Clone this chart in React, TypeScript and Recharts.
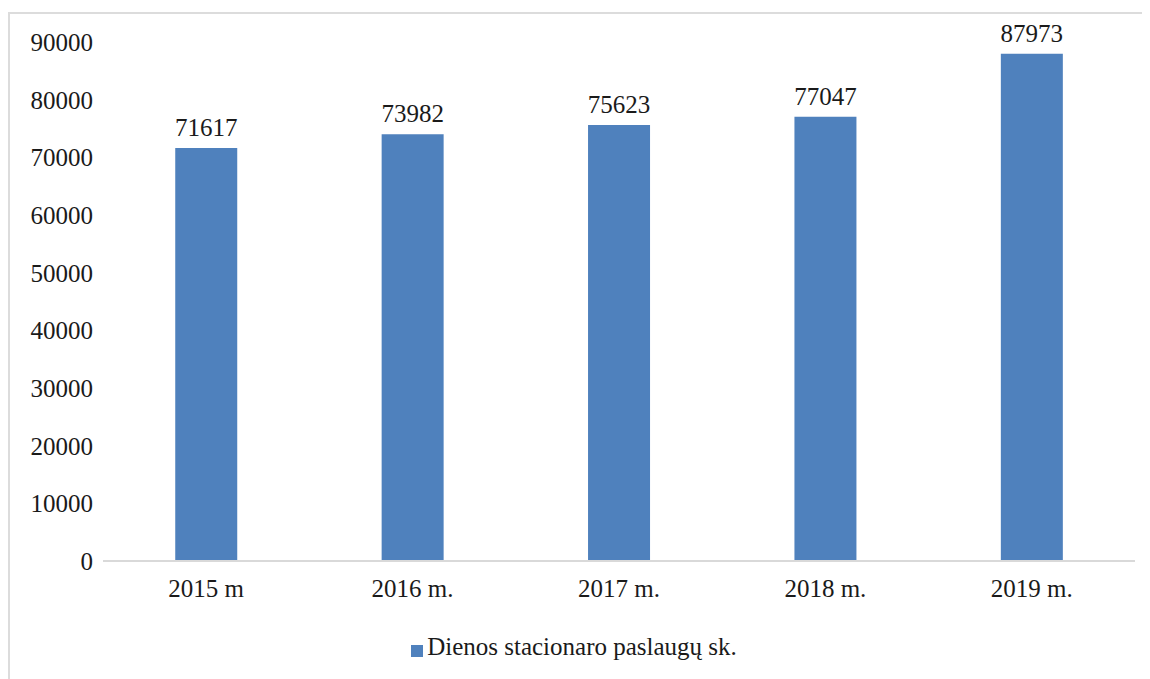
import { BarChart, Bar, XAxis, YAxis, Legend, LabelList } from 'recharts'

const YEARS = ['2015 m', '2016 m.', '2017 m.', '2018 m.', '2019 m.']
const SERVICES = [71617, 73982, 75623, 77047, 87973]
const Y_TICKS = [0, 10000, 20000, 30000, 40000, 50000, 60000, 70000, 80000, 90000]
const SERIES_NAME = 'Dienos stacionaro paslaugų sk.'

const data = YEARS.map((year, i) => ({ year, value: SERVICES[i] }))

const FONT = "'Liberation Serif', serif"
const TEXT = '#1a1a1a'
const SIZE = 25

export default function App() {
  return (
    <div style={{ paddingTop: 4 }}>
      <div
        style={{
          width: 1142,
          height: 667,
          borderTop: '2px solid #dcdcdc',
          borderLeft: '2px solid #dcdcdc',
          boxSizing: 'border-box',
          fontFamily: FONT,
        }}
      >
        <BarChart
          width={1140}
          height={665}
          data={data}
          margin={{ top: 28, right: 15, left: 13, bottom: 16 }}
          barCategoryGap="35%"
          style={{ fontFamily: FONT }}
        >
          <XAxis
            dataKey="year"
            height={72}
            tickLine={false}
            axisLine={{ stroke: '#d9d9d9', strokeWidth: 2 }}
            tickMargin={12}
            tick={{ fill: TEXT, fontSize: SIZE, fontFamily: FONT }}
          />
          <YAxis
            width={80}
            domain={[0, 90000]}
            ticks={Y_TICKS}
            axisLine={false}
            tickLine={false}
            tickSize={0}
            tickMargin={10}
            tick={{ fill: TEXT, fontSize: SIZE, fontFamily: FONT }}
          />
          <Legend
            verticalAlign="bottom"
            height={30}
            iconType="square"
            iconSize={12}
            formatter={(value) => (
              <span style={{ color: TEXT, fontSize: SIZE, fontFamily: FONT }}>{value}</span>
            )}
          />
          <Bar dataKey="value" name={SERIES_NAME} fill="#4f81bd" isAnimationActive={false}>
            <LabelList
              dataKey="value"
              position="top"
              offset={12}
              fill={TEXT}
              fontSize={SIZE}
              fontFamily={FONT}
            />
          </Bar>
        </BarChart>
      </div>
    </div>
  )
}
